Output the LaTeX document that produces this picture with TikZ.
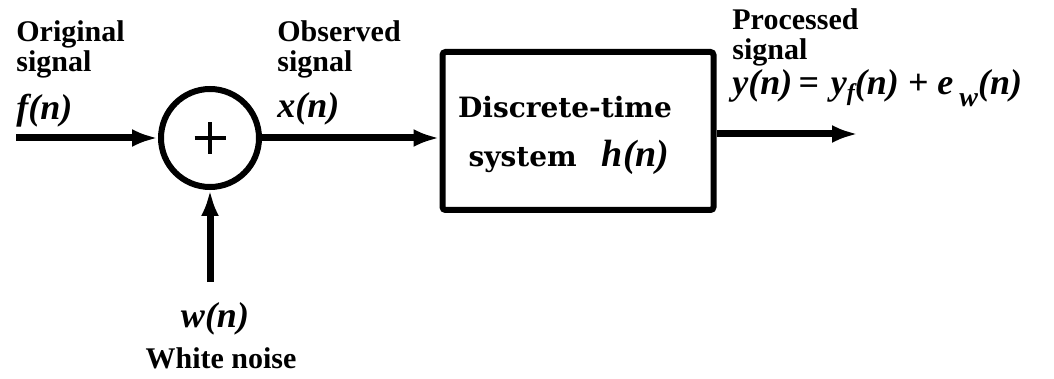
\documentclass[tikz,border=0pt]{standalone}
\usepackage{fontspec}
\setmainfont{Liberation Serif}
\newfontfamily\boxfont{DejaVu Serif}
\usetikzlibrary{arrows.meta}
\begin{document}
\begin{tikzpicture}[x=0.5pt,y=-0.5pt,
  lbl/.style={font=\bfseries\fontsize{15}{17}\selectfont, anchor=base west, inner sep=0},
  mth/.style={font=\bfseries\itshape\fontsize{18}{20}\selectfont, anchor=base west, inner sep=0},
  boxtxt/.style={font=\boxfont\bfseries\fontsize{14}{16}\selectfont, inner sep=0, anchor=base},
  wire/.style={line width=3.5pt, -{Latex[length=13pt,width=9pt]}},
  sumnode/.style={circle, draw, line width=3pt, minimum size=49pt, inner sep=0},
  sysbox/.style={draw, line width=3pt, minimum width=135.5pt, minimum height=79pt, rounded corners=1.5pt},
]
\useasboundingbox (0,0) rectangle (1054,379);
% nodes
\node[sumnode] (sum) at (210,138) {};
\draw[line width=2pt] ([xshift=-7.75pt]sum.center) -- ([xshift=7.75pt]sum.center);
\draw[line width=2pt] ([yshift=-8pt]sum.center) -- ([yshift=8pt]sum.center);
\node[sysbox] (sys) at (578,131) {};
\node[boxtxt] (t1) at (565,118) {Discrete-time};
\node[boxtxt] (t2) at (569,167) {system\hspace{0.9em}{\fontspec{Liberation Serif}\fontsize{19}{20}\selectfont\bfseries\itshape h(n)}};
\coordinate (in) at (16,138);
\coordinate (out) at (858,134);
\coordinate (noise) at (210,282);
% connectors
\draw[wire] (in) -- (sum.west);
\draw[wire] (sum.east) -- (sum.east -| sys.west);
\draw[wire] (sys.east |- out) -- (out);
\draw[wire] (noise) -- (sum.south);
% labels
\node[lbl] (l1) at (16,42) {Original};
\node[lbl] (l2) at (16,72) {signal};
\node[mth] (l3) at (16,120) {f(n)};
\node[lbl] (o1) at (277,42) {Observed};
\node[lbl] (o2) at (277,72) {signal};
\node[mth] (o3) at (277,118) {x(n)};
\node[lbl] (p1) at (732,30) {Processed};
\node[lbl] (p2) at (732,60) {signal};
\node[mth] (p3) at (732,95) {y(n)\,=\,\,y\raisebox{-3pt}{\fontsize{12}{12}\selectfont f}(n) + e\,\raisebox{-6pt}{\fontsize{14}{14}\selectfont w}(n)};
\node[mth, anchor=base] (w1) at (215,327) {w(n)};
\node[lbl, anchor=base] (w2) at (221,368) {White noise};
\end{tikzpicture}
\end{document}
